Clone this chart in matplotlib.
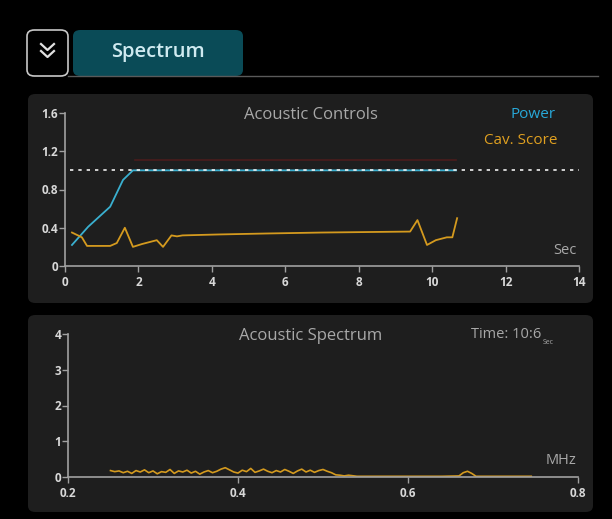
import matplotlib
matplotlib.use("Agg")
from matplotlib import pyplot as plt
from matplotlib.patches import FancyBboxPatch
from matplotlib.lines import Line2D

plt.rcParams['font.family'] = ['Open Sans', 'DejaVu Sans']

# acoustic controls, time in seconds
power_t = [0.19, 0.63, 1.23, 1.58, 1.85, 10.65]
power_v = [0.22, 0.41, 0.62, 0.90, 1.00, 1.00]

limit_t = [1.9, 10.65]
limit_v = [1.11, 1.11]

target_level = 1.0

cav_t = [0.19, 0.46, 0.60, 1.23, 1.41, 1.63, 1.85, 2.10, 2.40, 2.50, 2.67, 2.90,
         3.05, 3.20, 4.20, 5.50, 7.00, 9.40, 9.60, 9.86, 10.10, 10.40, 10.55, 10.68]
cav_v = [0.35, 0.30, 0.21, 0.21, 0.24, 0.40, 0.20, 0.23, 0.26, 0.27, 0.20, 0.32,
         0.31, 0.32, 0.33, 0.34, 0.35, 0.36, 0.48, 0.22, 0.27, 0.30, 0.30, 0.50]

# acoustic spectrum, MHz
freq = [0.250, 0.255, 0.260, 0.265, 0.270, 0.275, 0.280, 0.285, 0.290, 0.295,
        0.300, 0.305, 0.310, 0.315, 0.320, 0.325, 0.330, 0.335, 0.340, 0.345,
        0.350, 0.355, 0.360, 0.365, 0.370, 0.375, 0.380, 0.385, 0.390, 0.395,
        0.400, 0.405, 0.410, 0.415, 0.420, 0.425, 0.430, 0.435, 0.440, 0.445,
        0.450, 0.455, 0.460, 0.465, 0.470, 0.475, 0.480, 0.485, 0.490, 0.495,
        0.500, 0.505, 0.510, 0.515, 0.520, 0.525, 0.530, 0.540, 0.560, 0.600,
        0.640, 0.660, 0.665, 0.670, 0.675, 0.680, 0.700, 0.720, 0.745]
amp = [0.18, 0.15, 0.17, 0.12, 0.16, 0.10, 0.18, 0.14, 0.20, 0.12,
       0.17, 0.09, 0.15, 0.13, 0.21, 0.10, 0.17, 0.14, 0.19, 0.11,
       0.16, 0.08, 0.14, 0.18, 0.12, 0.16, 0.22, 0.26, 0.20, 0.14,
       0.11, 0.19, 0.15, 0.24, 0.13, 0.17, 0.22, 0.16, 0.12, 0.18,
       0.14, 0.21, 0.16, 0.10, 0.17, 0.22, 0.14, 0.19, 0.13, 0.18,
       0.21, 0.16, 0.12, 0.06, 0.05, 0.03, 0.05, 0.02, 0.02, 0.02,
       0.02, 0.03, 0.12, 0.16, 0.10, 0.02, 0.02, 0.02, 0.02]

W, H = 612, 519
fig = plt.figure(figsize=(W / 100, H / 100), dpi=100)
fig.patch.set_facecolor('black')

def box(x0, y0, x1, y1, **kw):
    # pixel coords (top-left origin) -> figure fraction
    p = FancyBboxPatch((x0 / W, 1 - y1 / H), (x1 - x0) / W, (y1 - y0) / H,
                       boxstyle="round,pad=0,rounding_size=0.012",
                       transform=fig.transFigure, zorder=-5, **kw)
    fig.patches.append(p)

# panels
box(28, 94, 593, 303, facecolor='#1e1e1e', edgecolor='none')
box(28, 315, 593, 512, facecolor='#1e1e1e', edgecolor='none')

# tab header
box(73, 30, 243, 76, facecolor='#0a4b57', edgecolor='none')
box(27, 30, 68, 76, facecolor='black', edgecolor='#c8c8c8', linewidth=1.2)
fig.lines.append(Line2D([68 / W, 598 / W], [1 - 76 / H, 1 - 76 / H],
                        transform=fig.transFigure, color='#5a5a5a', lw=1))
for dy in (0, 7):
    fig.lines.append(Line2D([41 / W, 47.5 / W, 54 / W],
                            [1 - (44 + dy) / H, 1 - (50 + dy) / H, 1 - (44 + dy) / H],
                            transform=fig.transFigure, color='#e0e0e0', lw=1.6))
fig.text(158 / W, 1 - 52 / H, 'Spectrum', color='#cfeaf0', fontsize=14.5,
         fontweight='semibold', ha='center', va='center')

tick_color = '#d8d8d8'
spine_color = '#a0a0a0'

def style(ax):
    ax.set_facecolor('none')
    for s in ('top', 'right'):
        ax.spines[s].set_visible(False)
    for s in ('left', 'bottom'):
        ax.spines[s].set_color(spine_color)
        ax.spines[s].set_linewidth(1.2)
    ax.tick_params(colors=spine_color, labelcolor=tick_color, labelsize=8.5,
                   length=4, width=1, direction='out')
    for lab in ax.get_xticklabels() + ax.get_yticklabels():
        lab.set_fontweight('bold')

# top chart
ax1 = fig.add_axes([65 / W, 1 - 266 / H, (579 - 65) / W, (266 - 113) / H])
ax1.plot(limit_t, limit_v, color='#4a1c1c', lw=1.2)
ax1.plot(power_t, power_v, color='#3ab0d0', lw=1.3)
ax1.plot(cav_t, cav_v, color='#d49a1e', lw=1.3)
ax1.axhline(target_level, xmin=0.01, xmax=1, color='#f0f0f0', lw=1.2,
            linestyle=(0, (2, 3)))
ax1.set_xlim(0, 14)
ax1.set_ylim(0, 1.6)
ax1.set_xticks([0, 2, 4, 6, 8, 10, 12, 14])
ax1.set_yticks([0, 0.4, 0.8, 1.2, 1.6])
ax1.set_yticklabels(['0', '0.4', '0.8', '1.2', '1.6'])
style(ax1)
ax1.tick_params(axis='y', pad=1)
fig.text(311 / W, 1 - 115 / H, 'Acoustic Controls', color='#a8a8a8', fontsize=12,
         ha='center', va='center')
fig.text(556 / W, 1 - 115 / H, 'Power', color='#28a8d8', fontsize=11,
         ha='right', va='center')
fig.text(557 / W, 1 - 141 / H, 'Cav. Score', color='#e0a020', fontsize=11,
         ha='right', va='center')
fig.text(577 / W, 1 - 251 / H, 'Sec', color='#a8a8a8', fontsize=10.5,
         ha='right', va='center')

# bottom chart
ax2 = fig.add_axes([68 / W, 1 - 477 / H, (578 - 68) / W, (477 - 334) / H])
ax2.plot(freq, amp, color='#d49a1e', lw=1.2)
ax2.set_xlim(0.2, 0.8)
ax2.set_ylim(0, 4)
ax2.set_xticks([0.2, 0.4, 0.6, 0.8])
ax2.set_xticklabels(['0.2', '0.4', '0.6', '0.8'])
ax2.set_yticks([0, 1, 2, 3, 4])
style(ax2)
ax2.tick_params(axis='y', pad=1)
fig.text(311 / W, 1 - 336 / H, 'Acoustic Spectrum', color='#a8a8a8', fontsize=12,
         ha='center', va='center')
fig.text(541 / W, 1 - 335 / H, 'Time: 10:6', color='#a8a8a8', fontsize=10.5,
         ha='right', va='center')
fig.text(543 / W, 1 - 343 / H, 'Sec', color='#a8a8a8', fontsize=5,
         ha='left', va='center')
fig.text(576 / W, 1 - 460 / H, 'MHz', color='#a8a8a8', fontsize=10.5,
         ha='right', va='center')

fig.savefig('out.png', dpi=100, facecolor=fig.get_facecolor())
